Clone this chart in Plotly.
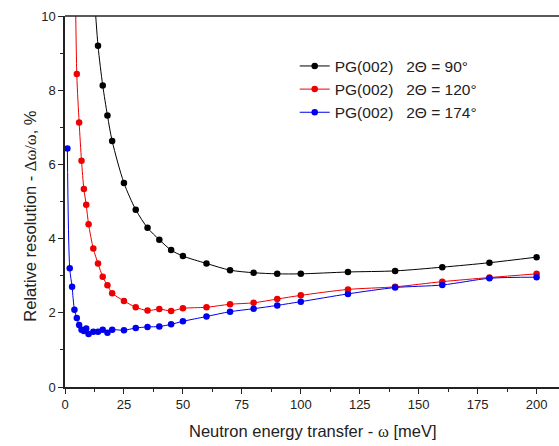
import plotly.graph_objects as go

# Data
x_90 = [12, 14, 16, 18, 20, 25, 30, 35, 40, 45, 50, 60, 70, 80, 90, 100, 120, 140, 160, 180, 200]
y_90 = [11.0, 9.20, 8.13, 7.32, 6.63, 5.50, 4.78, 4.29, 3.97, 3.69, 3.53, 3.33, 3.15, 3.08, 3.05, 3.05, 3.10, 3.13, 3.23, 3.35, 3.50]

x_120 = [4, 5, 6, 7, 8, 9, 10, 12, 14, 16, 18, 20, 25, 30, 35, 40, 45, 50, 60, 70, 80, 90, 100, 120, 140, 160, 180, 200]
y_120 = [13.6, 8.44, 7.13, 6.10, 5.34, 4.91, 4.39, 3.73, 3.33, 2.97, 2.74, 2.53, 2.32, 2.15, 2.06, 2.10, 2.05, 2.12, 2.15, 2.23, 2.27, 2.37, 2.47, 2.63, 2.70, 2.84, 2.95, 3.05]

x_174 = [1, 2, 3, 4, 5, 6, 7, 8, 9, 10, 12, 14, 16, 18, 20, 25, 30, 35, 40, 45, 50, 60, 70, 80, 90, 100, 120, 140, 160, 180, 200]
y_174 = [6.43, 3.20, 2.70, 2.08, 1.86, 1.67, 1.54, 1.51, 1.58, 1.43, 1.49, 1.49, 1.54, 1.46, 1.54, 1.53, 1.59, 1.62, 1.63, 1.69, 1.77, 1.90, 2.03, 2.11, 2.20, 2.30, 2.51, 2.68, 2.75, 2.93, 2.96]

names = ["PG(002)\u00a0\u00a0\u00a02\u0398 = 90\u00b0",
         "PG(002)\u00a0\u00a0\u00a02\u0398 = 120\u00b0",
         "PG(002)\u00a0\u00a0\u00a02\u0398 = 174\u00b0"]
colors = ["#000000", "#ee0000", "#0000ee"]

x_ticks = [0, 25, 50, 75, 100, 125, 150, 175, 200]
y_ticks = [0, 2, 4, 6, 8, 10]

FONT = "Liberation Sans, Arial, sans-serif"

fig = go.Figure()
for xs, ys, nm, c in zip([x_90, x_120, x_174], [y_90, y_120, y_174], names, colors):
    fig.add_trace(go.Scatter(
        x=xs, y=ys, name=nm, mode="lines+markers",
        line=dict(color=c, width=1, shape="spline", smoothing=0.8),
        marker=dict(color=c, size=6.5),
        cliponaxis=True,
    ))

axis_common = dict(
    showgrid=False, zeroline=False, showline=True, linecolor="#222222", linewidth=1.5,
    ticks="outside", ticklen=5, tickwidth=1.2, tickcolor="#222222",
    tickfont=dict(family=FONT, size=13, color="#222222"),
)

fig.update_xaxes(range=[0, 209.5], tickvals=x_ticks, mirror=False,
                 minor=dict(ticks="outside", ticklen=3, tickwidth=1.2, tickcolor="#222222", dtick=12.5, tick0=0),
                 **axis_common)
fig.update_yaxes(range=[0, 10], tickvals=y_ticks,
                 minor=dict(ticks="outside", ticklen=3, tickwidth=1.2, tickcolor="#222222", dtick=1, tick0=0),
                 **axis_common)

# top border line
fig.add_shape(type="line", xref="paper", yref="paper", x0=0, x1=1, y0=1, y1=1,
              line=dict(color="#222222", width=1.5))

fig.add_annotation(
    text="Relative resolution - <span style=\"font-family:'Liberation Serif'\">\u0394\u03c9/\u03c9</span>, %",
    xref="paper", yref="paper", x=-0.0695, y=0.461, textangle=-90, showarrow=False,
    xanchor="center", yanchor="middle", font=dict(family=FONT, size=16.5, color="#222222"))
fig.add_annotation(
    text="Neutron energy transfer - <span style=\"font-family:'Liberation Serif'\">\u03c9</span> [meV]",
    xref="paper", yref="paper", x=0.502, y=-0.120, showarrow=False,
    xanchor="center", yanchor="middle", font=dict(family=FONT, size=16.5, color="#222222"))

fig.update_layout(
    width=559, height=446,
    margin=dict(l=65, r=0, t=16, b=59),
    paper_bgcolor="white", plot_bgcolor="white",
    font=dict(family=FONT, color="#222222"),
    legend=dict(x=0.465, y=0.91, xanchor="left", yanchor="top",
                bgcolor="rgba(0,0,0,0)", borderwidth=0,
                font=dict(family=FONT, size=15.5, color="#222222"),
                itemwidth=30),
    showlegend=True,
)

fig.write_html("out.html",
               config={"displayModeBar": False},
               post_script="document.body.style.margin='0';document.body.style.overflow='hidden';")
